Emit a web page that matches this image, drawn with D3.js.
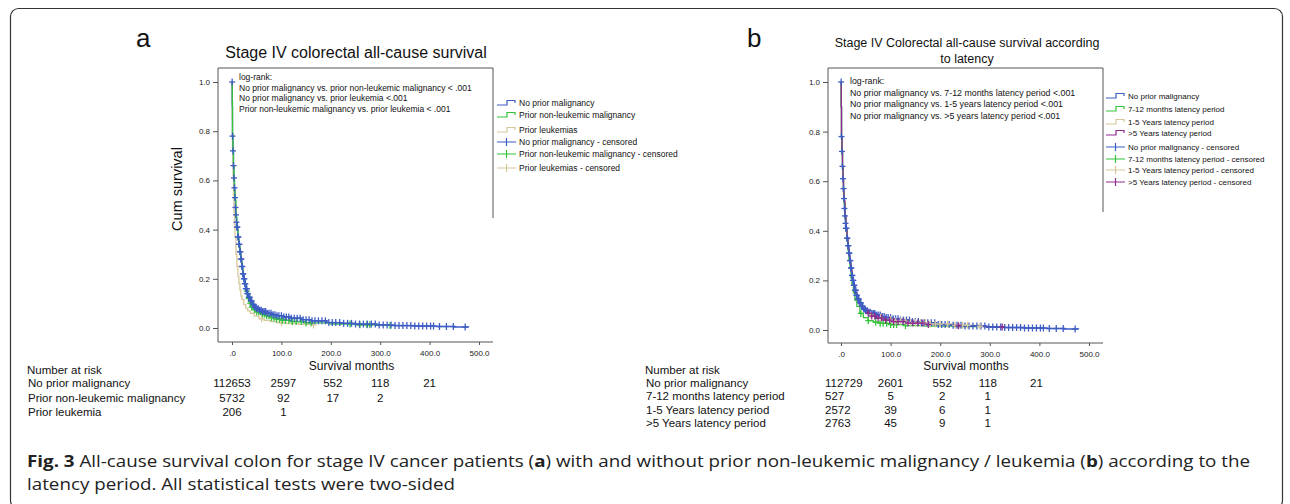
<!DOCTYPE html>
<html>
<head>
<meta charset="utf-8">
<script src="https://cdn.jsdelivr.net/npm/d3@7"></script>
<style>
  body { margin: 0; background: #fff; }
  svg { display: block; }
</style>
</head>
<body>
<div id="chart"></div>
<script>
// ---- data ----
const timeTicks = [0, 100, 200, 300, 400, 500];
const survTicks = [0, 0.2, 0.4, 0.6, 0.8, 1.0];

// panel a: Kaplan-Meier steps, [months, cum survival]
const aNoPrior = [[0,1],[0.5,0.9],[1,0.78],[2,0.72],[3,0.66],[4,0.61],[5,0.57],[6,0.53],[7,0.49],[8,0.46],[9,0.43],[10,0.41],[12,0.37],[14,0.34],[16,0.31],[18,0.28],[20,0.25],[22,0.22],[24,0.2],[26,0.18],[28,0.16],[31,0.14],[34,0.125],[38,0.11],[42,0.095],[46,0.085],[50,0.078],[55,0.072],[60,0.067],[70,0.06],[80,0.054],[90,0.05],[104,0.045],[120,0.04],[140,0.034],[160,0.029],[192,0.022],[220,0.019],[250,0.016],[293,0.012],[330,0.01],[370,0.008],[415,0.006],[450,0.004],[479,0.003]];
const aNonLeuk = [[0,1],[0.5,0.92],[1,0.79],[2,0.72],[3,0.66],[4,0.6],[5,0.56],[6,0.52],[8,0.45],[10,0.4],[12,0.36],[14,0.33],[16,0.3],[18,0.27],[20,0.24],[22,0.21],[25,0.18],[28,0.15],[31,0.12],[35,0.1],[40,0.085],[45,0.075],[50,0.066],[60,0.057],[70,0.05],[80,0.042],[90,0.036],[100,0.031],[120,0.026],[150,0.021],[200,0.016],[250,0.013],[290,0.011],[320,0.01]];
const aLeuk = [[0,1],[0.5,0.85],[1,0.72],[2,0.62],[3,0.54],[4,0.47],[5,0.42],[6,0.37],[8,0.3],[10,0.25],[12,0.21],[14,0.18],[16,0.155],[18,0.13],[20,0.115],[24,0.095],[28,0.08],[32,0.07],[37,0.06],[45,0.048],[55,0.038],[65,0.031],[77,0.026],[90,0.022],[110,0.018],[135,0.015],[165,0.012]];

// panel a: censoring times (months)
const aNoPriorCens = [0.3,1,2,3,4,5,6,7,8,9,10,11,12,13,14,15,16,17,18,19,20,21,22,23,24,25,26,27,28,29,30,31,32,34,36,38,40,42,44,46,48,50,53,56,59,62,65,68,71,75,79,83,87,91,95,100,105,110,115,120,126,132,138,144,150,156,162,168,175,182,189,196,203,210,218,226,234,242,250,258,266,274,282,290,298,306,314,322,330,338,346,354,362,370,378,386,394,402,408,420,434,448,472];
const aNonLeukCens = [30,34,37,40,43,46,50,54,58,62,66,70,75,80,85,90,96,102,108,115,122,130,140,150,160,239,259,273,279,320];
const aLeukCens = [60,100,165];

// panel b: Kaplan-Meier steps
const bNoPrior = aNoPrior;
const b712 = [[0,1],[0.5,0.9],[1,0.78],[2,0.71],[3,0.65],[4,0.6],[5,0.55],[6,0.51],[8,0.45],[10,0.4],[12,0.36],[14,0.32],[16,0.28],[18,0.25],[20,0.21],[22,0.18],[25,0.15],[28,0.12],[32,0.095],[38,0.067],[45,0.05],[55,0.038],[65,0.032],[79,0.027],[100,0.022],[130,0.018],[170,0.016],[230,0.014],[280,0.012]];
const b15 = [[0,1],[0.5,0.9],[1,0.78],[2,0.72],[3,0.66],[4,0.61],[5,0.56],[6,0.52],[8,0.45],[10,0.4],[12,0.36],[14,0.33],[16,0.3],[18,0.27],[20,0.24],[22,0.21],[25,0.18],[28,0.155],[32,0.13],[36,0.11],[42,0.09],[50,0.072],[60,0.06],[75,0.05],[90,0.043],[110,0.036],[140,0.03],[180,0.024],[230,0.019],[280,0.015]];
const b5 = [[0,1],[0.5,0.9],[1,0.78],[2,0.72],[3,0.66],[4,0.61],[5,0.56],[6,0.52],[8,0.46],[10,0.41],[12,0.37],[14,0.33],[16,0.3],[18,0.27],[20,0.24],[22,0.21],[25,0.18],[28,0.15],[32,0.125],[36,0.105],[42,0.085],[50,0.068],[60,0.056],[70,0.048],[85,0.04],[100,0.034],[130,0.028],[170,0.022],[230,0.017],[280,0.014],[320,0.012]];

const bNoPriorCens = aNoPriorCens;
const b712Cens = [40,55,70,79,85,92,100,106,112,130];
const b15Cens = [60,80,100,110,120,130,140,150,160,170,180,190,200,215,230,245,255,280];
const b5Cens = [55,62,68,75,82,90,98,106,115,125,135,145,155,165,176,237,325];

// legends, log-rank notes, number at risk
const aLegend = ["No prior malignancy", "Prior non-leukemic malignancy", "Prior leukemias",
  "No prior malignancy - censored", "Prior non-leukemic malignancy -  censored", "Prior leukemias - censored"];
const bLegend = ["No prior malignancy", "7-12 months latency period", "1-5 Years latency period", ">5 Years latency period",
  "No prior malignancy - censored", "7-12 months latency period - censored", "1-5 Years latency period - censored", ">5 Years latency period - censored"];
const aLogRank = ["log-rank:", "No prior malignancy vs. prior non-leukemic malignancy < .001",
  "No prior malignancy vs. prior leukemia <.001", "Prior non-leukemic malignancy vs. prior leukemia < .001"];
const bLogRank = ["log-rank:", "No prior malignancy vs. 7-12 months latency period <.001",
  "No prior malignancy vs. 1-5 years latency period <.001", "No prior malignancy vs. >5 years latency period <.001"];
const aRiskRows = ["No prior malignancy", "Prior non-leukemic malignancy", "Prior leukemia"];
const aRisk = [[112653, 2597, 552, 118, 21], [5732, 92, 17, 2], [206, 1]];
const bRiskRows = ["No prior malignancy", "7-12 months latency period", "1-5 Years latency period", ">5 Years latency period"];
const bRisk = [[112729, 2601, 552, 118, 21], [527, 5, 2, 1], [2572, 39, 6, 1], [2763, 45, 9, 1]];

const BLUE = "#3d5cc4", GREEN = "#33c43a", TAN = "#d6c89c", PURPLE = "#8e2a8e";
const FONT = "Liberation Sans, Arial, sans-serif";

const W = 1290, H = 504;
const svg = d3.select("#chart").append("svg").attr("width", W).attr("height", H);

// figure frame
svg.append("rect")
  .attr("x", 10.5).attr("y", 8.5).attr("width", 1272).attr("height", 500).attr("rx", 8)
  .attr("fill", "none").attr("stroke", "#333").attr("stroke-width", 1.2);

function stepAt(curve, t) {
  const i = d3.bisector(d => d[0]).right(curve, t) - 1;
  return curve[Math.max(0, i)][1];
}

function drawPanel(p) {
  const g = svg.append("g");
  const x = d3.scaleLinear().domain([0, 500]).range(p.xRange);
  const y = d3.scaleLinear().domain([0, 1]).range(p.yRange);

  // panel letter + title
  g.append("text").attr("x", p.letterX).attr("y", 47).text(p.letter)
    .style("font-family", FONT).style("font-size", "26px").attr("fill", "#111");
  p.title.forEach((t, i) => {
    g.append("text").attr("x", p.titleX).attr("y", p.titleY + i * p.titleGap)
      .attr("text-anchor", "middle").text(t)
      .style("font-family", FONT).style("font-size", p.titleSize + "px").attr("fill", "#111");
  });

  // plot frame
  const [L, T, R, B] = p.box;
  g.append("path")
    .attr("d", `M${R},${p.rightEnd}V${T}H${L}V${B}H${R}`)
    .attr("fill", "none").attr("stroke", "#555").attr("stroke-width", 1);

  // axes
  const ya = g.append("g").attr("transform", `translate(${L},0)`)
    .call(d3.axisLeft(y).tickValues(survTicks).tickSize(5).tickPadding(3).tickFormat(d3.format(".1f")));
  const xa = g.append("g").attr("transform", `translate(0,${B})`)
    .call(d3.axisBottom(x).tickValues(timeTicks).tickSize(3).tickPadding(5)
      .tickFormat(d => d === 0 ? ".0" : d3.format(".1f")(d)));
  [ya, xa].forEach(a => {
    a.select(".domain").remove();
    a.selectAll("line").attr("stroke", "#555");
    a.selectAll("text").style("font-family", FONT).style("font-size", "8px").attr("fill", "#222");
  });

  g.append("text").attr("x", (x(0) + x(500)) / 2 + p.xLabelShift).attr("y", 370)
    .attr("text-anchor", "middle").text("Survival months")
    .style("font-family", FONT).style("font-size", "12px").attr("fill", "#111");
  if (p.yLabel) {
    g.append("text").attr("transform", `translate(182,189) rotate(-90)`)
      .attr("text-anchor", "middle").text(p.yLabel)
      .style("font-family", FONT).style("font-size", "14.5px").attr("fill", "#111");
  }

  // log-rank note
  p.logRank.forEach((t, i) => {
    g.append("text").attr("x", p.noteX).attr("y", p.noteY + i * p.noteGap).text(t)
      .style("font-family", FONT).style("font-size", p.noteSize + "px").attr("fill", "#111");
  });

  // curves
  const line = d3.line().x(d => x(d[0])).y(d => y(d[1])).curve(d3.curveStepAfter);
  p.lineOrder.forEach(s => {
    g.append("path").datum(s.curve).attr("d", line)
      .attr("fill", "none").attr("stroke", s.color).attr("stroke-width", 1.3);
  });
  // censor marks
  p.markOrder.forEach(s => {
    const m = g.append("g").attr("stroke", s.color).attr("stroke-width", 1.3);
    s.cens.forEach(t => {
      const cx = x(t), cy = y(stepAt(s.curve, t));
      m.append("line").attr("x1", cx - 3).attr("x2", cx + 3).attr("y1", cy).attr("y2", cy);
      m.append("line").attr("x1", cx).attr("x2", cx).attr("y1", cy - 3.5).attr("y2", cy + 3.5);
    });
  });

  // legend
  p.legend.forEach((lab, i) => {
    const ly = p.legY[i], lx = p.legX;
    const col = p.legColors[i % p.legColors.length];
    const censored = i >= p.legColors.length;
    if (!censored) {
      g.append("path").attr("d", `M${lx},${ly + 2}H${lx + 10}V${ly - 2.5}H${lx + 18}V${ly}`)
        .attr("fill", "none").attr("stroke", col).attr("stroke-width", 1.2);
    } else {
      g.append("path").attr("d", `M${lx},${ly}H${lx + 19}M${lx + 9.5},${ly - 4}V${ly + 4}`)
        .attr("fill", "none").attr("stroke", col).attr("stroke-width", 1.2);
    }
    g.append("text").attr("x", lx + 22).attr("y", ly + 3).text(lab)
      .style("font-family", FONT).style("font-size", p.legSize + "px").attr("fill", "#111");
  });

  // number at risk table
  g.append("text").attr("x", p.riskX).attr("y", 374).text("Number at risk")
    .style("font-family", FONT).style("font-size", "11.5px").attr("fill", "#111");
  p.riskRows.forEach((lab, r) => {
    const ry = p.riskY[r];
    g.append("text").attr("x", p.riskX + 1).attr("y", ry).text(lab)
      .style("font-family", FONT).style("font-size", "11.5px").attr("fill", "#111");
    p.risk[r].forEach((v, c) => {
      const firstLeft = p.firstColLeft && c === 0;
      g.append("text")
        .attr("x", firstLeft ? p.firstColLeft : x(timeTicks[c]) + (p.colShift[c] || 0))
        .attr("y", ry).attr("text-anchor", firstLeft ? "start" : "middle").text(v)
        .style("font-family", FONT).style("font-size", "11.5px").attr("fill", "#111");
    });
  });
}

const sA = {
  noPrior: { curve: aNoPrior, cens: aNoPriorCens, color: BLUE },
  nonLeuk: { curve: aNonLeuk, cens: aNonLeukCens, color: GREEN },
  leuk: { curve: aLeuk, cens: aLeukCens, color: TAN }
};
drawPanel({
  letter: "a", letterX: 136,
  title: ["Stage IV colorectal all-cause survival"], titleX: 356, titleY: 58, titleGap: 0, titleSize: 16,
  xRange: [232, 479], yRange: [328, 82], box: [218, 68, 493, 342], rightEnd: 218,
  yLabel: "Cum survival", xLabelShift: -4,
  logRank: aLogRank, noteX: 239, noteY: 80, noteGap: 10.7, noteSize: 8.5,
  lineOrder: [sA.leuk, sA.noPrior, sA.nonLeuk],
  markOrder: [sA.leuk, sA.nonLeuk, sA.noPrior],
  legend: aLegend, legX: 497, legY: [103, 115, 130, 142, 154, 168], legSize: 8.5,
  legColors: [BLUE, GREEN, TAN],
  riskX: 27, riskRows: aRiskRows, risk: aRisk, riskY: [387, 402, 416], colShift: [0, 2, 2, 0, 0]
});

const sB = {
  noPrior: { curve: bNoPrior, cens: bNoPriorCens, color: BLUE },
  m712: { curve: b712, cens: b712Cens, color: GREEN },
  y15: { curve: b15, cens: b15Cens, color: TAN },
  y5: { curve: b5, cens: b5Cens, color: PURPLE }
};
drawPanel({
  letter: "b", letterX: 747,
  title: ["Stage IV Colorectal all-cause survival according", "to latency"], titleX: 967, titleY: 47, titleGap: 16, titleSize: 12.5,
  xRange: [841, 1089], yRange: [330, 82], box: [828, 68, 1103, 343], rightEnd: 212,
  yLabel: null, xLabelShift: 1,
  logRank: bLogRank, noteX: 850, noteY: 84, noteGap: 11.5, noteSize: 8.8,
  lineOrder: [sB.noPrior, sB.y15, sB.m712, sB.y5],
  markOrder: [sB.noPrior, sB.m712, sB.y15, sB.y5],
  legend: bLegend, legX: 1106, legY: [96, 109, 122, 133, 147, 159, 170, 182], legSize: 8,
  legColors: [BLUE, GREEN, TAN, PURPLE],
  riskX: 645, riskRows: bRiskRows, risk: bRisk, riskY: [387, 400, 414, 427], colShift: [0, 0, 2, -2, -3],
  firstColLeft: 825
});

// caption: 16.5px, stretched horizontally to the reference line length
const cap = svg.append("g").style("font-family", "Open Sans, sans-serif")
  .style("font-size", "16.5px").attr("fill", "#222");
const c1 = cap.append("text").attr("x", 27).attr("y", 467);
c1.append("tspan").attr("font-weight", "bold").text("Fig. 3");
c1.append("tspan").text(" All-cause survival colon for stage IV cancer patients (");
c1.append("tspan").attr("font-weight", "bold").text("a");
c1.append("tspan").text(") with and without prior non-leukemic malignancy / leukemia (");
c1.append("tspan").attr("font-weight", "bold").text("b");
c1.append("tspan").text(") according to the");
const c2 = cap.append("text").attr("x", 27).attr("y", 490)
  .text("latency period. All statistical tests were two-sided");
const stretch = 1223 / c1.node().getComputedTextLength();
const len2 = c2.node().getComputedTextLength();
c1.attr("textLength", 1223).attr("lengthAdjust", "spacingAndGlyphs");
c2.attr("textLength", len2 * stretch).attr("lengthAdjust", "spacingAndGlyphs");
</script>
</body>
</html>
